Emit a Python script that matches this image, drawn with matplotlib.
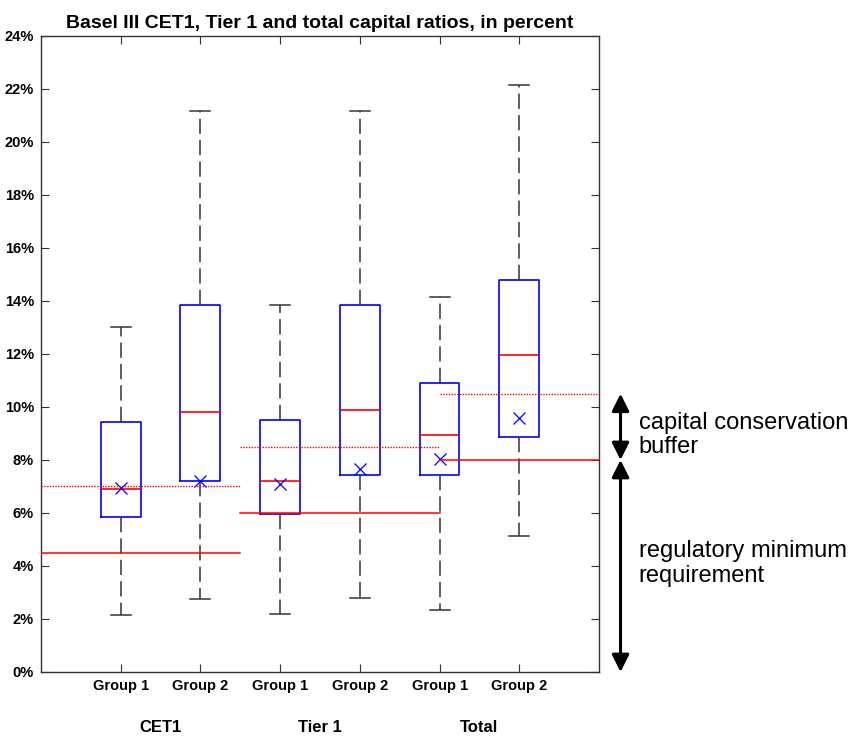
import numpy as np
import matplotlib
matplotlib.use("Agg")
import matplotlib.pyplot as plt

plt.rcParams['font.family'] = ['Liberation Sans', 'DejaVu Sans']

# box statistics, in percent
q1 = [5.85, 7.2, 5.95, 7.45, 7.45, 8.85]
med = [6.9, 9.8, 7.2, 9.9, 8.95, 11.95]
q3 = [9.45, 13.85, 9.5, 13.85, 10.9, 14.8]
lo = [2.15, 2.75, 2.2, 2.8, 2.35, 5.15]
hi = [13.0, 21.15, 13.85, 21.15, 14.15, 22.15]
mean = [6.95, 7.2, 7.1, 7.65, 8.05, 9.6]
groups = ['Group 1', 'Group 2'] * 3
ratios = ['CET1', 'Tier 1', 'Total']

# regulatory minimum (solid) and minimum + buffer (dotted)
minimum = [4.5, 6.0, 8.0]
with_buffer = [7.0, 8.5, 10.5]
spans = [(0.0, 2.5), (2.5, 5.0), (5.0, 7.0)]

fig = plt.figure(figsize=(8.54, 7.4), dpi=100)
ax = fig.add_axes([0.048, 0.0919, 0.6534, 0.8595])

stats = []
for i in range(6):
    stats.append(dict(q1=q1[i], med=med[i], q3=q3[i], whislo=lo[i],
                      whishi=hi[i], mean=mean[i]))

pos = np.arange(1, 7)
ax.bxp(stats, positions=pos, widths=0.5, showmeans=True, showfliers=False,
       boxprops=dict(color='blue', lw=1.2),
       medianprops=dict(color='red', lw=1.2),
       whiskerprops=dict(color='#333333', lw=1.1, linestyle=(0, (10, 4))),
       capprops=dict(color='#333333', lw=1.1),
       meanprops=dict(marker='x', markeredgecolor='blue', markersize=9,
                      markeredgewidth=0.9))

for k in range(3):
    x0, x1 = spans[k]
    ax.plot([x0, x1], [minimum[k]] * 2, color='red', lw=1.1, zorder=3)
    ax.plot([x0, x1], [with_buffer[k]] * 2, color='red', lw=1.0,
            linestyle=(0, (1, 1)), zorder=3)

ax.set_xlim(0, 7)
ax.set_ylim(0, 24)
ax.set_xticks(pos)
ax.set_xticklabels(groups, fontsize=10.5, fontweight='bold')
yt = np.arange(0, 25, 2)
ax.set_yticks(yt)
ax.set_yticklabels(['%d%%' % v for v in yt], fontsize=10.5, fontweight='bold')
ax.tick_params(direction='in', top=True, right=True, length=6, width=0.8,
               color='#333333', pad=5)
for s in ax.spines.values():
    s.set_linewidth(1.0)
    s.set_color('#333333')

for k, name in enumerate(ratios):
    ax.text(2 * k + 1.5, -2.1, name, ha='center', va='center', fontsize=12,
            fontweight='bold')

ax.set_title('Basel III CET1, Tier 1 and total capital ratios, in percent',
             fontsize=14, fontweight='bold', pad=6)

# arrows on the right
xa = 7.27
for y0, y1 in [(minimum[2], with_buffer[2]), (0, minimum[2])]:
    ax.annotate('', xy=(xa, y0), xytext=(xa, y1),
                arrowprops=dict(arrowstyle='<|-|>', color='black', lw=2.2,
                                mutation_scale=26, shrinkA=0, shrinkB=0),
                annotation_clip=False)
ax.text(7.5, 8.95, 'capital conservation\nbuffer', ha='left', va='center',
        fontsize=17, linespacing=1.15, clip_on=False)
ax.text(7.5, 4.1, 'regulatory minimum\nrequirement', ha='left', va='center',
        fontsize=17, linespacing=1.15, clip_on=False)

fig.savefig('out.png', dpi=100)
